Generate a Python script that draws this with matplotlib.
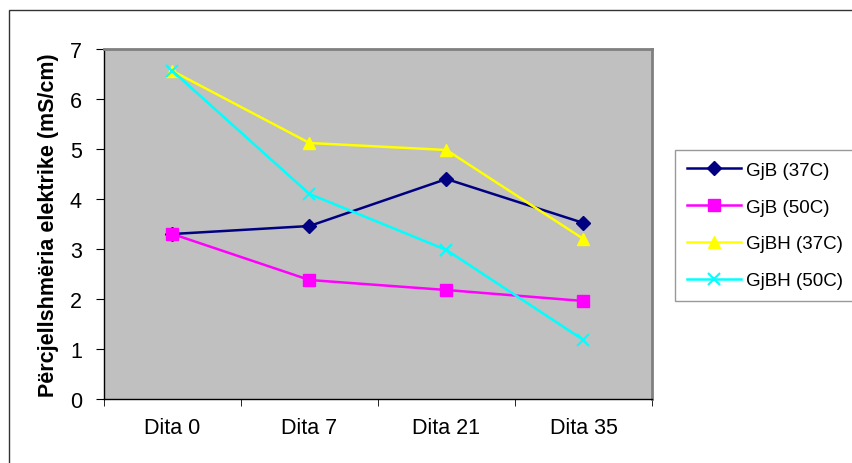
import matplotlib.pyplot as plt
from matplotlib.patches import Rectangle
import numpy as np

plt.rcParams['font.family'] = ['Liberation Sans', 'DejaVu Sans']

days = ['Dita 0', 'Dita 7', 'Dita 21', 'Dita 35']
gjb_37 = [3.30, 3.46, 4.40, 3.52]
gjb_50 = [3.30, 2.38, 2.18, 1.96]
gjbh_37 = [6.56, 5.12, 4.98, 3.20]
gjbh_50 = [6.56, 4.10, 2.98, 1.18]

series = [
    ('GjB (37C)', gjb_37, '#000080', 'D', 7),
    ('GjB (50C)', gjb_50, '#FF00FF', 's', 8.5),
    ('GjBH (37C)', gjbh_37, '#FFFF00', '^', 9),
    ('GjBH (50C)', gjbh_50, '#00FFFF', 'x', 8),
]

fig = plt.figure(figsize=(8.53, 4.64), dpi=100)
# outer chart frame
fig.patches.append(Rectangle((9 / 853, -0.05), 1.0, 1 - 11 / 464 + 0.05,
                             transform=fig.transFigure, fill=False,
                             edgecolor='#333333', linewidth=1.0))

ax = fig.add_axes([104 / 853, 64 / 464, 548 / 853, 350 / 464])
ax.set_facecolor('#C0C0C0')

x = np.arange(len(days))
for name, vals, col, mk, ms in series:
    ax.plot(x, vals, color=col, marker=mk, markersize=ms, linewidth=1.8,
            markeredgewidth=1.5 if mk == 'x' else 1.0, markeredgecolor=col,
            label=name)

ax.set_xlim(-0.5, len(days) - 0.5)
ax.set_ylim(0, 7)
ax.set_yticks(range(0, 8))
ax.set_xticks(x)
ax.set_xticklabels(days)
ax.set_xticks(np.arange(-0.5, len(days)), minor=True)
ax.tick_params(axis='x', which='major', length=0, pad=13, labelsize=15.5)
ax.tick_params(axis='x', which='minor', length=5, direction='out')
ax.tick_params(axis='y', length=6, direction='out', pad=10, labelsize=15.5)

for side in ('top', 'right'):
    ax.spines[side].set_color('#808080')
    ax.spines[side].set_linewidth(2)
for side in ('left', 'bottom'):
    ax.spines[side].set_color('black')
    ax.spines[side].set_linewidth(1)

ax.set_ylabel('Përcjellshmëria elektrike (mS/cm)', fontsize=15.5,
              fontweight='bold', labelpad=8)

leg = ax.legend(loc='upper left', mode='expand',
                bbox_to_anchor=(675 / 853, 164 / 464, 180 / 853, 149 / 464),
                bbox_transform=fig.transFigure, frameon=True, fancybox=False,
                fontsize=13.5, handlelength=2.9, labelspacing=1.05,
                borderpad=0.62, handletextpad=0.25, borderaxespad=0)
leg.get_frame().set_edgecolor('#808080')
leg.get_frame().set_linewidth(1)

fig.savefig('out.png', dpi=100)
